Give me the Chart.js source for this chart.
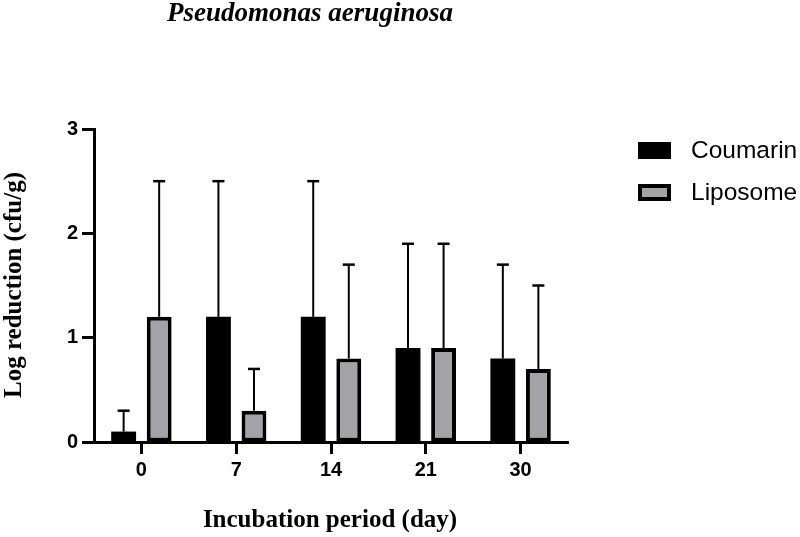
<!DOCTYPE html>
<html>
<head>
<meta charset="utf-8">
<script src="https://cdn.jsdelivr.net/npm/chart.js@4/dist/chart.umd.min.js"></script>
<style>
  html, body { margin: 0; padding: 0; background: #fff; }
  #wrap { width: 800px; height: 537px; position: relative; }
</style>
</head>
<body>
<div id="wrap"><canvas id="chart" width="800" height="537"></canvas></div>
<script>
// Chart data
const days = ['0', '7', '14', '21', '30'];
const coumarinMean = [0.1, 1.2, 1.2, 0.9, 0.8];
const coumarinSD = [0.2, 1.3, 1.3, 1.0, 0.9];
const liposomeMean = [1.2, 0.3, 0.8, 0.9, 0.7];
const liposomeSD = [1.3, 0.4, 0.9, 1.0, 0.8];
const yTicks = [0, 1, 2, 3];

const serif = '"Liberation Serif", "Times New Roman", serif';
const sans = '"Liberation Sans", Arial, sans-serif';

// Upward-only error bars with caps, placed through the scales
const errorBars = {
    id: 'errorBars',
    afterDatasetsDraw(chart) {
        const ctx = chart.ctx;
        const y = chart.scales.y;
        ctx.save();
        ctx.strokeStyle = '#000';
        chart.data.datasets.forEach((ds, i) => {
            const meta = chart.getDatasetMeta(i);
            meta.data.forEach((bar, j) => {
                const top = y.getPixelForValue(ds.data[j] + ds.sd[j]);
                ctx.lineWidth = 2;
                ctx.beginPath();
                ctx.moveTo(bar.x, bar.y);
                ctx.lineTo(bar.x, top);
                ctx.stroke();
                ctx.lineWidth = 2.5;
                ctx.beginPath();
                ctx.moveTo(bar.x - 6, top);
                ctx.lineTo(bar.x + 6, top);
                ctx.stroke();
            });
        });
        ctx.restore();
    }
};

// Title, axis titles and legend
const decorations = {
    id: 'decorations',
    afterDraw(chart) {
        const ctx = chart.ctx;
        ctx.save();
        ctx.fillStyle = '#000';
        ctx.textAlign = 'center';
        ctx.textBaseline = 'middle';

        ctx.font = 'italic bold 27px ' + serif;
        ctx.fillText('Pseudomonas aeruginosa', 310, 14);

        ctx.font = 'bold 25px ' + serif;
        ctx.fillText('Incubation period (day)', 330, 521);

        ctx.save();
        ctx.translate(15, 285);
        ctx.rotate(-Math.PI / 2);
        ctx.fillText('Log reduction (cfu/g)', 0, 0);
        ctx.restore();

        // legend
        ctx.textAlign = 'left';
        ctx.font = '24.5px ' + sans;
        chart.data.datasets.forEach((ds, i) => {
            const cy = 150 + i * 42;
            ctx.fillStyle = '#000';
            ctx.fillRect(638, cy - 8, 33, 17);
            if (ds.backgroundColor !== '#000') {
                ctx.fillStyle = ds.backgroundColor;
                ctx.fillRect(642, cy - 4, 25, 9);
            }
            ctx.fillStyle = '#000';
            ctx.fillText(ds.label, 691, cy + 1);
        });
        ctx.restore();
    }
};

new Chart(document.getElementById('chart'), {
    type: 'bar',
    data: {
        labels: days,
        datasets: [
            {
                label: 'Coumarin',
                data: coumarinMean,
                sd: coumarinSD,
                backgroundColor: '#000',
                borderWidth: 0,
                categoryPercentage: 0.75,
                barPercentage: 0.7
            },
            {
                label: 'Liposome',
                data: liposomeMean,
                sd: liposomeSD,
                backgroundColor: '#a3a2a7',
                borderColor: '#000',
                borderWidth: 4,
                borderSkipped: false,
                categoryPercentage: 0.75,
                barPercentage: 0.7
            }
        ]
    },
    options: {
        responsive: false,
        animation: false,
        layout: { padding: { top: 129, right: 232, left: 0, bottom: 0 } },
        plugins: {
            legend: { display: false },
            tooltip: { enabled: false }
        },
        scales: {
            x: {
                offset: true,
                afterFit: scale => { scale.height = 95; },
                border: { display: true, color: '#000', width: 3 },
                grid: {
                    display: true,
                    offset: false,
                    drawOnChartArea: false,
                    drawTicks: true,
                    tickLength: 12,
                    tickWidth: 3,
                    tickColor: '#000'
                },
                ticks: {
                    color: '#000',
                    padding: 4,
                    font: { family: sans, size: 20, weight: 'bold' }
                }
            },
            y: {
                min: 0,
                max: 3,
                afterFit: scale => { scale.width = 94; },
                afterBuildTicks: scale => { scale.ticks = yTicks.map(v => ({ value: v })); },
                border: { display: true, color: '#000', width: 3 },
                grid: {
                    display: true,
                    drawOnChartArea: false,
                    drawTicks: true,
                    tickLength: 12,
                    tickWidth: 3,
                    tickColor: '#000'
                },
                ticks: {
                    color: '#000',
                    padding: 4,
                    font: { family: sans, size: 20, weight: 'bold' }
                }
            }
        }
    },
    plugins: [errorBars, decorations]
});
</script>
</body>
</html>
